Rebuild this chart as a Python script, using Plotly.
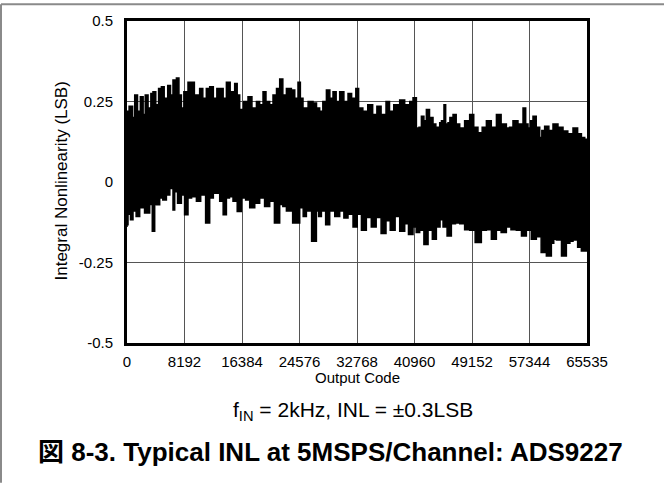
import plotly.graph_objects as go

W, H = 664, 484
L, R, T, B = 127, 587, 18, 343  # plot area in pixels

# upper edge of the INL band (output code, LSB)
upper_code = [0, 300, 800, 1100, 1500, 1900, 2300, 2600, 3000, 3400, 3700, 4100, 4500, 4900,
              5300, 5800, 6200, 6550, 7040, 7400, 7750, 8100, 8690, 9175, 9600, 10350, 10800,
              11300, 11780, 12300, 12800, 13200, 13700, 14160, 14700, 15340, 15700, 16056,
              16600, 17240, 17800, 18440, 18900, 19380, 19800, 20330, 20800, 21300, 21755,
              22200, 22710, 23420, 23900, 24360, 24700, 25075, 25800, 26500, 27000, 27450,
              27900, 28410, 28900, 29350, 29800, 30300, 30900, 31490, 32000, 32600, 33000,
              33600, 34300, 35000, 35600, 36200, 36900, 37400, 38000, 38850, 39560, 40280,
              40750, 41230, 41600, 41940, 42300, 42650, 43100, 43600, 44000, 44550, 44800,
              45160, 45400, 45730, 46000, 46450, 46900, 47400, 48100, 48820, 49400, 50000,
              50600, 51200, 51900, 52630, 53300, 54050, 54500, 54990, 55700, 56420, 56800,
              57130, 57500, 57840, 58300, 58800, 59100, 59500, 60100, 60690, 61400, 62120,
              62800, 63540, 64200, 64740, 65210, 65535]
upper_inl = [0.22, 0.235, 0.20, 0.27, 0.22, 0.265, 0.21, 0.27, 0.23, 0.275, 0.28, 0.24, 0.29, 0.296,
             0.26, 0.30, 0.27, 0.317, 0.323, 0.27, 0.23, 0.28, 0.31, 0.31, 0.27, 0.29, 0.26,
             0.29, 0.296, 0.26, 0.29, 0.29, 0.26, 0.31, 0.28, 0.306, 0.27, 0.225,
             0.25, 0.265, 0.23, 0.25, 0.24, 0.28, 0.25, 0.24, 0.27, 0.29, 0.32,
             0.27, 0.29, 0.286, 0.26, 0.31, 0.26, 0.23, 0.25, 0.245, 0.23, 0.22,
             0.25, 0.286, 0.26, 0.28, 0.25, 0.28, 0.25, 0.275, 0.26, 0.29, 0.23,
             0.22, 0.24, 0.21, 0.235, 0.21, 0.25, 0.22, 0.24, 0.255, 0.24, 0.25,
             0.262, 0.168, 0.17, 0.204, 0.19, 0.225, 0.20, 0.18, 0.17, 0.184, 0.19,
             0.24, 0.18, 0.184, 0.20, 0.21, 0.18, 0.168, 0.19, 0.21, 0.17, 0.153,
             0.17, 0.19, 0.17, 0.21, 0.18, 0.168, 0.17, 0.19, 0.18, 0.23, 0.18,
             0.168, 0.19, 0.204, 0.17, 0.138, 0.16, 0.173, 0.16, 0.18, 0.17, 0.158,
             0.15, 0.168, 0.15, 0.138, 0.133, 0.12]

# lower edge of the INL band
lower_code = [0, 142, 500, 855, 1300, 1809, 2500, 3234, 3600, 3946, 4200, 4659, 5100, 5613, 6100,
              6554, 6796, 7200, 7750, 8200, 8691, 9200, 9887, 10500, 11200, 11782, 12300, 13207,
              13700, 14162, 14600, 15102, 15700, 16299, 16900, 17481, 18200, 18906, 19600,
              20331, 21000, 21755, 22200, 22710, 23600, 24605, 25100, 25559, 26300, 26984,
              27300, 27696, 28300, 28879, 29600, 30304, 30900, 31486, 32200, 32800, 33400,
              34100, 34800, 35500, 36200, 36900, 37500, 38200, 38852, 39564, 40100, 40750,
              41200, 41700, 42300, 42892, 43500, 44075, 44600, 45025, 45600, 46212, 46800,
              47400, 48100, 48824, 49600, 50485, 51200, 51910, 52622, 53300, 54047, 54700,
              55471, 56200, 56896, 57600, 58320, 59000, 59745, 60457, 60800, 61170, 61900,
              62594, 63100, 63544, 64200, 64731, 65443, 65535]
lower_inl = [-0.14, -0.133, -0.10, -0.117, -0.09, -0.107, -0.08, -0.096, -0.07, -0.153, -0.07, -0.071,
             -0.05, -0.056, -0.04, -0.02, -0.087, -0.03, -0.066, -0.04, -0.102, -0.05, -0.046,
             -0.06, -0.04, -0.127, -0.05, -0.035, -0.06, -0.102, -0.05, -0.046, -0.06, -0.092,
             -0.05, -0.056, -0.08, -0.066, -0.05, -0.076, -0.06, -0.127, -0.07, -0.076, -0.09,
             -0.127, -0.08, -0.107, -0.09, -0.184, -0.09, -0.107, -0.09, -0.133, -0.09, -0.107,
             -0.09, -0.112, -0.10, -0.14, -0.10, -0.15, -0.11, -0.14, -0.11, -0.16, -0.12,
             -0.15, -0.107, -0.153, -0.13, -0.163, -0.14, -0.157, -0.15, -0.194, -0.15, -0.178,
             -0.14, -0.117, -0.14, -0.168, -0.13, -0.127, -0.13, -0.148, -0.15, -0.188, -0.15,
             -0.148, -0.178, -0.15, -0.157, -0.14, -0.148, -0.15, -0.168, -0.15, -0.178, -0.17,
             -0.219, -0.23, -0.19, -0.178, -0.18, -0.23, -0.19, -0.184, -0.18, -0.203, -0.214,
             -0.21]

x_ticks = [0, 8192, 16384, 24576, 32768, 40960, 49152, 57344, 65535]
y_ticks = [-0.5, -0.25, 0, 0.25, 0.5]
y_labels = ["-0.5", "-0.25", "0", "0.25", "0.5"]

FONT = "Liberation Sans, Arial, Noto Sans CJK JP, sans-serif"


def px_x(p):
    return (p - L) / (R - L)


def px_y(p):
    return (B - p) / (B - T)


fig = go.Figure()
fig.add_trace(go.Scatter(
    x=upper_code + lower_code[::-1],
    y=upper_inl + lower_inl[::-1],
    mode="lines",
    line_shape="hv",
    fill="toself",
    fillcolor="black",
    line=dict(color="black", width=1.5),
    hoverinfo="skip",
    showlegend=False,
))

axis_common = dict(
    showline=True, linecolor="black", linewidth=3, mirror=True,
    showgrid=True, gridcolor="#555555", gridwidth=1,
    zeroline=False, ticks="", tickfont=dict(size=15, color="black"),
)
fig.update_xaxes(range=[0, 65535], tickvals=x_ticks, ticktext=[str(v) for v in x_ticks],
                 ticklabelstandoff=3, **axis_common)
fig.update_yaxes(range=[-0.5, 0.5], tickvals=y_ticks, ticktext=y_labels,
                 ticklabelstandoff=8, **axis_common)

texts = [
    ("Integral Nonlinearity (LSB)", 62, 180, 17, -90),
    ("Output Code", 357, 378, 15, 0),
    ("f<sub>IN</sub> = 2kHz, INL = ±0.3LSB", 353, 412, 21, 0),
    ("<b>図 8-3. Typical INL at 5MSPS/Channel: ADS9227</b>", 330, 453, 26, 0),
]
for text, x, y, size, angle in texts:
    fig.add_annotation(text=text, xref="paper", yref="paper", x=px_x(x), y=px_y(y),
                       xanchor="center", yanchor="middle", textangle=angle, showarrow=False,
                       font=dict(size=size, color="black"))

# grey frame on the top and left edges of the figure
for x0, y0, x1, y1 in [(1, 1, W, 1), (1, 1, 1, H)]:
    fig.add_shape(type="line", xref="paper", yref="paper",
                  x0=px_x(x0), y0=px_y(y0), x1=px_x(x1), y1=px_y(y1),
                  line=dict(color="#8a8a8a", width=2), layer="below")

fig.update_layout(
    width=W, height=H,
    margin=dict(l=L, r=W - R, t=T, b=H - B),
    paper_bgcolor="white", plot_bgcolor="white",
    font=dict(family=FONT, color="black"),
    showlegend=False,
)

fig.write_html("out.html", config={"displayModeBar": False},
               post_script="document.body.style.margin = '0';")
